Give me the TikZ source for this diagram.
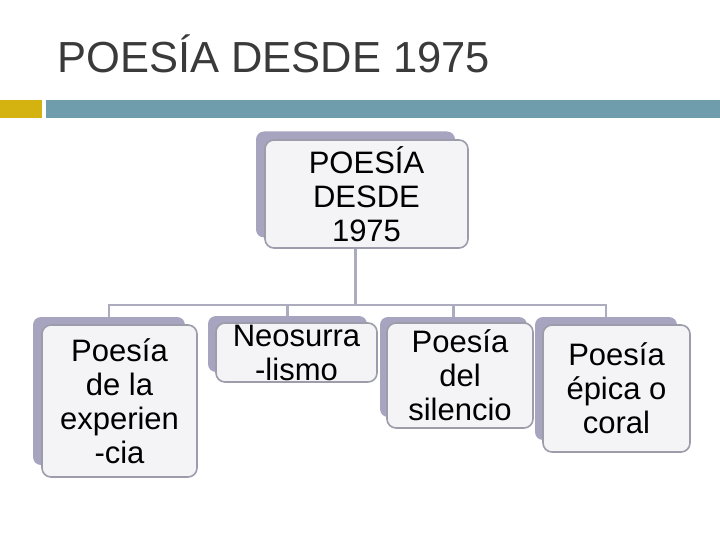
\documentclass[tikz,border=0pt]{standalone}
\usepackage{fontspec}
\setmainfont{Liberation Sans}
\usetikzlibrary{backgrounds}
\definecolor{barteal}{RGB}{111,157,172}
\definecolor{baryellow}{RGB}{212,178,15}
\definecolor{backfill}{RGB}{166,164,190}
\definecolor{frontfill}{RGB}{244,244,246}
\definecolor{frontline}{RGB}{156,156,170}
\definecolor{connline}{RGB}{172,172,190}
\definecolor{titlecol}{RGB}{58,58,58}
\tikzset{
  backbox/.style={draw=none, fill=backfill, rounded corners=8pt, inner sep=0pt},
  frontbox/.style={draw=frontline, line width=1.6pt, fill=frontfill, rounded corners=9pt,
    inner sep=0pt, align=center, font=\fontsize{31}{34}\selectfont},
  conn/.style={draw=connline, line width=2.2pt}
}
\begin{document}
\begin{tikzpicture}[x=1pt,y=1pt]
\useasboundingbox (0,0) rectangle (720,-540);
% header
\node[anchor=base west, inner sep=0pt, text=titlecol, font=\fontsize{43.5}{50}\selectfont] (title) at (57,-73) {POESÍA DESDE 1975};
\fill[baryellow] (0,-100) rectangle (42,-118);
\fill[barteal] (46,-100) rectangle (720,-118);
% back boxes
\node[backbox, minimum width=199pt, minimum height=106pt] (topb) at (355.5,-184.5) {};
\node[backbox, minimum width=152pt, minimum height=148pt] (leftb) at (109,-391) {};
\node[backbox, minimum width=159pt, minimum height=56pt] (neob) at (287.5,-344) {};
\node[backbox, minimum width=147pt, minimum height=100pt] (silb) at (453.5,-367) {};
\node[backbox, minimum width=142pt, minimum height=123pt] (corb) at (606,-378.5) {};
\coordinate (bus) at (0,-305);
\begin{scope}[on background layer]
\draw[conn] (topb.south) -- (topb.south |- bus);
\draw[conn] (leftb.north) |- (corb.north |- bus) -- (corb.north);
\draw[conn] (neob.north) -- (neob.north |- bus);
\draw[conn] (silb.north) -- (silb.north |- bus);
\end{scope}
% front boxes
\node[frontbox, minimum width=203pt, minimum height=108pt] (topf) at (366.5,-194) {POESÍA\\DESDE\\1975};
\node[frontbox, minimum width=155pt, minimum height=152pt] (leftf) at (119.5,-401) {Poesía\\de la\\experien\\-cia};
\node[frontbox, minimum width=161pt, minimum height=59pt] (neof) at (296.5,-352.5) {Neosurra\\-lismo};
\node[frontbox, minimum width=146pt, minimum height=105pt] (silf) at (460,-375.5) {Poesía\\del\\silencio};
\node[frontbox, minimum width=147pt, minimum height=127pt] (corf) at (616.5,-388.5) {Poesía\\épica o\\coral};
\end{tikzpicture}
\end{document}
